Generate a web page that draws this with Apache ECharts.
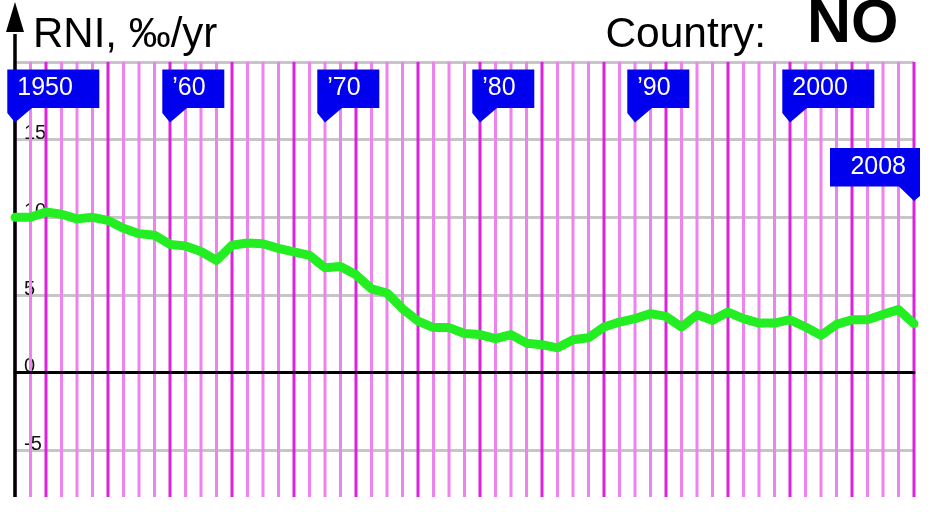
<!DOCTYPE html>
<html><head><meta charset="utf-8">
<script src="https://cdn.jsdelivr.net/npm/echarts@6/dist/echarts.min.js"></script>
<style>html,body{margin:0;padding:0;background:#fff;overflow:hidden}#c{width:931px;height:540px}</style>
</head><body><div id="c"></div>
<script>
// ---- data ----
const years = [1950,1951,1952,1953,1954,1955,1956,1957,1958,1959,
  1960,1961,1962,1963,1964,1965,1966,1967,1968,1969,
  1970,1971,1972,1973,1974,1975,1976,1977,1978,1979,
  1980,1981,1982,1983,1984,1985,1986,1987,1988,1989,
  1990,1991,1992,1993,1994,1995,1996,1997,1998,1999,
  2000,2001,2002,2003,2004,2005,2006,2007,2008];
const rni = [10.0,10.0,10.35,10.2,9.9,10.0,9.8,9.3,8.95,8.85,
  8.26,8.15,7.8,7.23,8.2,8.35,8.3,8.0,7.77,7.55,
  6.76,6.84,6.3,5.4,5.13,4.12,3.32,2.9,2.9,2.52,
  2.45,2.19,2.45,1.9,1.8,1.6,2.12,2.25,2.94,3.26,
  3.48,3.8,3.62,2.94,3.73,3.37,3.9,3.48,3.19,3.19,
  3.41,2.94,2.4,3.11,3.41,3.41,3.75,4.06,3.15];
const flagYears  = [1950, 1960, 1970, 1980, 1990, 2000, 2008];
const flagLabels = ['1950', '\u201960', '\u201970', '\u201980', '\u201990', '2000', '2008'];
const flagTips   = [16.1, 16.1, 16.1, 16.1, 16.1, 16.1, 11.05];
const flagSides  = ['left', 'left', 'left', 'left', 'left', 'left', 'right'];
const yTickLabels = [-5, 0, 5, 10, 15];
const yMin = -10, yMax = 20, yStep = 5;
const xMin = 1950, xMax = 2008;
const frameBottom = -8;
const titleText = 'RNI, \u2030/yr';
const countryLabel = 'Country:';
const countryCode = 'NO';

// ---- styles ----
const FONT = '"Liberation Sans", Arial, sans-serif';
const LIGHT = '#ee82ee', DARK = '#dd22dd', BLUE = '#0000ee', GREEN = '#22ee22';

const chart = echarts.init(document.getElementById('c'), null, {renderer: 'canvas'});

const option = {
  animation: false,
  backgroundColor: '#fff',
  grid: {left: 15, right: 17, top: 62, bottom: 12, containLabel: false},
  xAxis: {
    type: 'value', min: xMin, max: xMax, z: 3,
    axisLine: {show: true, onZero: true, lineStyle: {color: '#000', width: 3}},
    axisTick: {show: false}, axisLabel: {show: false}, splitLine: {show: false}
  },
  yAxis: {
    type: 'value', min: yMin, max: yMax, interval: yStep,
    axisLine: {show: false}, axisTick: {show: false},
    axisLabel: {
      inside: true, margin: 9, fontSize: 20, color: '#111', fontFamily: FONT,
      verticalAlign: 'bottom', lineHeight: 12,
      formatter: v => yTickLabels.indexOf(v) >= 0 ? String(v) : ''
    },
    splitLine: {show: true, lineStyle: {color: '#c6c6c6', width: 3}}
  },
  graphic: [
    {type: 'text', z: 10, style: {text: titleText, x: 33, y: 35, font: '42px ' + FONT, fill: '#000',
      align: 'left', textAlign: 'left', verticalAlign: 'middle', textVerticalAlign: 'middle'}},
    {type: 'text', z: 10, style: {text: countryLabel, x: 766, y: 35, font: '42.5px ' + FONT, fill: '#000',
      align: 'right', textAlign: 'right', verticalAlign: 'middle', textVerticalAlign: 'middle'}},
    {type: 'text', z: 10, style: {text: countryCode, x: 807, y: 25, font: 'bold 61px ' + FONT, fill: '#000',
      align: 'left', textAlign: 'left', verticalAlign: 'middle', textVerticalAlign: 'middle'}}
  ],
  series: [
    { // vertical year lines
      type: 'custom', z: 1, silent: true,
      data: years.map(y => [y, 0]),
      encode: {x: 0, y: 1},
      renderItem: (params, api) => {
        const yr = api.value(0);
        const p1 = api.coord([yr, frameBottom]);
        const p2 = api.coord([yr, yMax]);
        return {type: 'line', shape: {x1: p1[0], y1: p1[1], x2: p2[0], y2: p2[1]},
          style: {stroke: yr % 4 === 0 ? DARK : LIGHT, lineWidth: 3}};
      }
    },
    { // y axis with arrow
      type: 'custom', z: 4, silent: true, clip: false,
      data: [[xMin, frameBottom]],
      encode: {x: 0, y: 1},
      renderItem: (params, api) => {
        const p0 = api.coord([api.value(0), api.value(1)]);
        const pTop = api.coord([api.value(0), yMax]);
        const tipY = pTop[1] - 60, baseY = tipY + 30, x = p0[0];
        return {type: 'group', children: [
          {type: 'line', shape: {x1: x, y1: p0[1], x2: x, y2: baseY + 2}, style: {stroke: '#000', lineWidth: 3.5}},
          {type: 'polygon', shape: {points: [[x, tipY], [x - 9, baseY], [x + 9, baseY]]}, style: {fill: '#000'}}
        ]};
      }
    },
    { // RNI line
      type: 'line', z: 5, silent: true,
      data: years.map((y, i) => [y, rni[i]]),
      showSymbol: false, symbol: 'none',
      lineStyle: {color: GREEN, width: 9, join: 'round', cap: 'round'}
    },
    { // year flags
      type: 'custom', z: 6, silent: true, clip: false,
      data: flagYears.map((y, i) => [y, flagTips[i], i]),
      encode: {x: 0, y: 1},
      renderItem: (params, api) => {
        const i = api.value(2);
        const label = flagLabels[i];
        const side = flagSides[i];
        const tip = api.coord([api.value(0), api.value(1)]);
        const tx = tip[0], ty = tip[1];
        const w = label.length >= 4 ? 92 : 62;
        const T = ty - 53, B = ty - 14.5;
        let pts, textX, align;
        if (side === 'left') {
          const L = tx - 7.7, R = L + w;
          pts = [[L, T], [R, T], [R, B], [tx + 17, B], [tx, ty], [L, B + 5]];
          textX = L + 10; align = 'left';
        } else {
          const R = tx + 6, L = R - 90;
          pts = [[L, T], [R, T], [R, B + 9.5], [tx, ty], [tx - 15, B], [L, B]];
          textX = R - 14; align = 'right';
        }
        return {type: 'group', children: [
          {type: 'polygon', shape: {points: pts}, style: {fill: BLUE}},
          {type: 'text', style: {text: label, x: textX, y: ty - 34, fill: '#fff', font: '25px ' + FONT,
            align: align, textAlign: align, verticalAlign: 'middle', textVerticalAlign: 'middle'}}
        ]};
      }
    }
  ]
};
chart.setOption(option);
</script>
</body></html>
